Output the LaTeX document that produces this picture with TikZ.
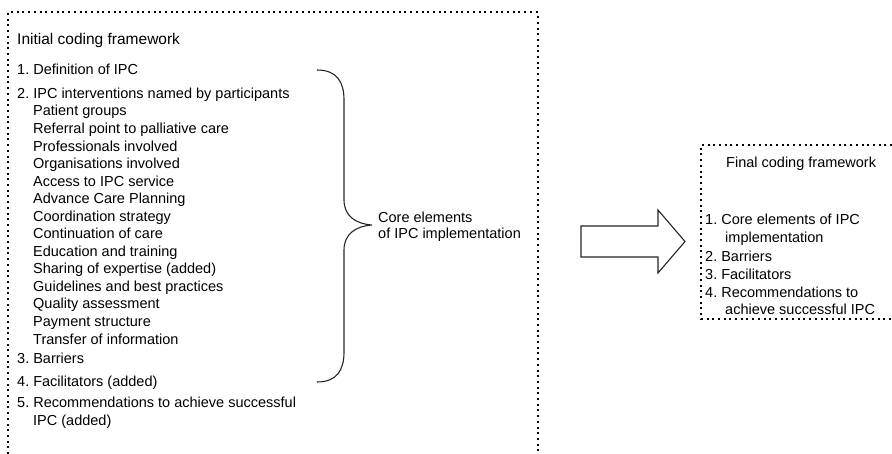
\documentclass[tikz,border=0pt]{standalone}
\usepackage{fontspec}
\setmainfont{Liberation Sans}
\usepackage{tikz}
\frenchspacing

\begin{document}
\begin{tikzpicture}
        [
            x = 1pt, y = -1pt,
            every node/.append style = {anchor = base west, inner sep = 0pt, font = \fontsize{14.5}{17.5}\selectfont},
            title/.style = {font = \fontsize{15.5}{18}\selectfont},
            frame/.style = {line width = 2pt, dash pattern = on 2pt off 3.7pt},
            outline/.style = {line width = 1.1pt, black!85}]
        \useasboundingbox (0,0) rectangle (892,454);
        \draw[frame] (8,454) -- (8,12.5) -- (537.5,12.5) -- (537.5,454);
        \draw[frame] (892,145) -- (701,145) -- (701,319) -- (892,319);
        \node[title] (initial) at (17,44.5) {Initial coding framework};
        \node (def) at (17,75) {1. Definition of IPC};
        \node (interv) at (17,99) {2. IPC interventions named by participants};
        \foreach \txt [count = \i from 0] in {Patient groups, Referral point to palliative care,
            Professionals involved, Organisations involved, Access to IPC service,
            Advance Care Planning, Coordination strategy, Continuation of care,
            Education and training, Sharing of expertise (added), Guidelines and best practices,
            Quality assessment, Payment structure, Transfer of information}
            \node (sub\i) at ({33},{116 + 17.54*\i}) {\txt};
        \node (barr) at (17,364) {3. Barriers};
        \node (facil) at (17,386) {4. Facilitators (added)};
        \node (recom) at (17,407) {5. Recommendations to achieve successful};
        \node (recomb) at (33,425) {IPC (added)};
        \coordinate (braceTop) at (317,70);
        \coordinate (braceTip) at (372,225);
        \coordinate (braceBot) at (317,382);
        \draw[outline] (braceTop) .. controls (337,70) and (344,82) .. (344,100) -- (344,200)
            .. controls (344,216) and (356,224) .. (braceTip)
            .. controls (356,226) and (344,234) .. (344,250) -- (344,352)
            .. controls (344,370) and (337,382) .. (braceBot);
        \node (core) at (378,223) {Core elements};
        \node (coreb) at (378,239) {of IPC implementation};
        \draw[outline, line join = miter] (581,226) -- (658,226) -- (658,210) -- (685,241.5)
            -- (658,273) -- (658,257) -- (581,257) -- cycle;
        \node (final) at (726,168) {Final coding framework};
        \node (fcore) at (705,225) {1. Core elements of IPC};
        \node (fcoreb) at (725,243) {implementation};
        \node (fbarr) at (705,262) {2. Barriers};
        \node (ffacil) at (705,280) {3. Facilitators};
        \node (frecom) at (705,298) {4. Recommendations to};
        \node (frecomb) at (725,315) {achieve successful IPC};
\end{tikzpicture}
\end{document}
